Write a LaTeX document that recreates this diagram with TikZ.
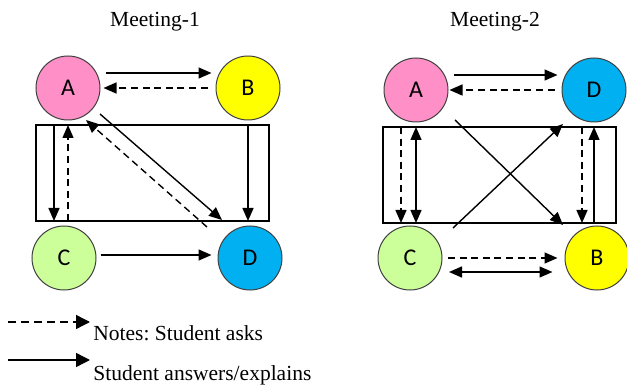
\documentclass[tikz,border=0pt]{standalone}
\usepackage{fontspec}
\setmainfont{Liberation Serif}
\newfontfamily\letterfont{Carlito}
\usetikzlibrary{arrows.meta,calc}
\definecolor{pinkA}{HTML}{FF8FC7}
\definecolor{yellowB}{HTML}{FFFF00}
\definecolor{greenC}{HTML}{CCFF99}
\definecolor{blueD}{HTML}{00B0F0}
\frenchspacing

\begin{document}
\begin{tikzpicture}[x=0.5pt,y=-0.5pt,
  >={Triangle[length=6.5pt,width=5.5pt]},
  stud/.style={circle,draw=black!75,line width=0.5pt,minimum size=32pt,inner sep=0pt,
    font=\letterfont\fontsize{12}{14}\selectfont},
  answer/.style={black,->,line width=0.7pt},
  ask/.style={answer,dash pattern=on 3.5pt off 2.3pt},
  frame/.style={draw,line width=0.7pt},
  title/.style={font=\fontsize{10.75}{13}\selectfont,anchor=base},
  legend/.style={font=\fontsize{10.75}{13}\selectfont,anchor=base west,inner sep=0pt}]
 \useasboundingbox (0,0) rectangle (627,385);
 % meeting 1
 \node[title] (t1) at (155,27) {Meeting-1};
 \coordinate (box1nw) at (36,125);
 \coordinate (box1se) at (269,221);
 \draw[frame] (box1nw) rectangle (box1se);
 \node[stud,fill=pinkA] (A1) at (68,88) {A};
 \node[stud,fill=yellowB] (B1) at (248,88) {B};
 \node[stud,fill=greenC] (C1) at (64,258) {C};
 \node[stud,fill=blueD] (D1) at (250,258) {D};
 \draw[answer,shorten <=2.5pt,shorten >=2pt] ([yshift=7.5pt]A1.east) -- ([yshift=7.5pt]B1.west);
 \draw[ask,shorten <=4pt,shorten >=1.5pt] (B1.west) -- (A1.east);
 \draw[answer] ([xshift=-7pt]A1 |- box1nw) -- ([xshift=-7pt]A1 |- box1se);
 \draw[ask] (A1 |- box1se) -- (A1 |- box1nw);
 \draw[answer] ($(A1)+(32,26)$) -- ($(D1)+(-28,-38)$);
 \draw[ask] ($(D1)+(-43,-31)$) -- ($(A1)+(18,32)$);
 \draw[answer] (B1 |- box1nw) -- (B1 |- box1se);
 \draw[answer,shorten <=2pt,shorten >=3pt] ([yshift=1.5pt]C1.east) -- ([yshift=1.5pt]D1.west);
 % meeting 2
 \node[title] (t2) at (495,27) {Meeting-2};
 \coordinate (box2nw) at (383,127);
 \coordinate (box2se) at (616,223);
 \draw[frame] (box2nw) rectangle (box2se);
 \node[stud,fill=pinkA] (A2) at (416,90) {A};
 \node[stud,fill=blueD] (D2) at (594,90) {D};
 \node[stud,fill=greenC] (C2) at (410,258) {C};
 \node[stud,fill=yellowB] (B2) at (597,258) {B};
 \draw[answer,shorten <=2.5pt,shorten >=2pt] ([yshift=7.5pt]A2.east) -- ([yshift=7.5pt]D2.west);
 \draw[ask,shorten <=3.5pt,shorten >=0.5pt] (D2.west) -- (A2.east);
 \draw[ask] ([xshift=-7.5pt]A2 |- box2nw) -- ([xshift=-7.5pt]A2 |- box2se);
 \draw[answer,<->] (A2 |- box2nw) -- (A2 |- box2se);
 \draw[answer] ($(A2)+(39,30)$) -- ($(B2)+(-34,-33)$);
 \draw[answer] ($(C2)+(43,-30)$) -- ($(D2)+(-31,34)$);
 \draw[ask] ([xshift=-6pt]D2 |- box2nw) -- ([xshift=-6pt]D2 |- box2se);
 \draw[answer] (D2 |- box2se) -- (D2 |- box2nw);
 \draw[ask,shorten <=2.75pt,shorten >=3.5pt] (C2.east) -- (B2.west);
 \draw[answer,<->,shorten <=3.25pt,shorten >=6pt] ([yshift=-7pt]C2.east) -- ([yshift=-7pt]B2.west);
 % notes
 \node[legend] (asks) at (93,340) {Notes: Student asks};
 \node[legend] (explains) at (93,380) {Student answers/explains};
 \coordinate (askfrom) at (8,322);
 \coordinate (explainfrom) at (8,360);
 \draw[ask,>={Triangle[length=7pt,width=7pt]},dash pattern=on 4pt off 2.5pt]
   (askfrom) -- ([xshift=-1.5pt]askfrom -| asks.west);
 \draw[answer,>={Triangle[length=7pt,width=7pt]}]
   (explainfrom) -- ([xshift=-1.5pt]explainfrom -| explains.west);
\end{tikzpicture}
\end{document}
